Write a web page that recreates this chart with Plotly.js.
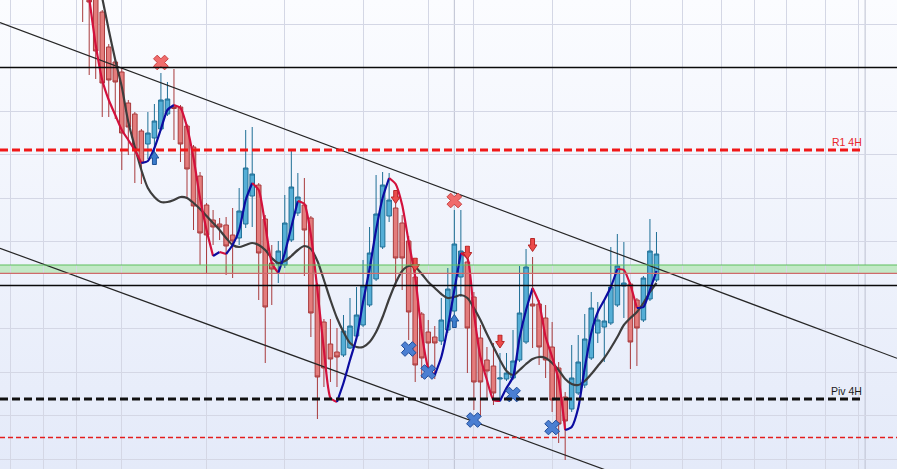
<!DOCTYPE html>
<html><head><meta charset="utf-8">
<script src="https://cdn.plot.ly/plotly-3.0.1.min.js"></script>
<style>
html,body{margin:0;padding:0;}
body{background:linear-gradient(#fbfcff,#e4eaf9);width:897px;height:469px;overflow:hidden;}
#chart{width:897px;height:469px;}
</style></head><body><div id="chart"></div>
<script>
// ---- candle data (price units) ----
const openP = [494,484,472,457,422,407,397,366,355,338,
 325,331,340,355,363,362,343,322,293,264,
 249,245,244,234,231,245,273,284,250,206,
 205,204,229,256,264,251,184,147,125,117,
 114,121,133,144,164,190,222,253,261,246,
 228,192,155,137,132,128,139,158,192,207,
 172,131,109,103,90,90,91,109,127,165,
 165,151,122,101,72,60,76,84,111,136,
 142,146,164,183,185,169,149,170,189];
const highP = [499,489,474,459,425,409,401,369,357,340,
 357,365,396,387,400,364,345,324,297,266,
 259,251,252,261,281,339,342,286,254,224,
 228,274,319,296,291,253,186,150,150,141,
 154,171,182,209,242,294,297,296,266,254,
 233,199,157,149,143,171,201,259,259,212,
 177,144,122,126,116,116,139,203,220,212,
 169,164,147,107,77,124,134,155,177,167,
 169,222,235,227,187,171,193,250,237];
const lowP = [447,394,390,352,352,350,299,314,286,285,
 310,316,338,353,329,307,270,239,204,196,
 224,229,194,191,224,241,242,169,106,164,
 186,201,227,253,193,132,50,82,87,82,
 112,120,131,142,162,188,220,247,182,179,
 129,87,91,94,90,124,136,154,172,96,
 59,52,69,64,67,88,89,107,125,121,
 104,91,57,26,9,57,74,81,109,126,
 107,144,162,151,100,103,147,168,187];
const closeP = [474,467,418,386,389,387,336,342,320,306,
 336,348,369,370,360.5,325,300,263,236,234,
 242,242,223,228,258,301,295,216,162,200,
 218,246,282,272,239,156,92,101,110,112,
 138,143,154,183,216,255,284,269,211,211,
 157,104,111,126,126,149,180,225,218,141,
 87,87,98,76,91,96,108,156,202,163,
 122,109,69,45,48,91,107,130,161,149,
 148,182,203,186,127,141,191,218,215];
// ---- moving averages ----
const fastMA = [null,471,424,389,369,354,339,329,319,306,
 308,321,340,359,364,361,342,311,271,239,
 213,217,215,224,239,269,286,279,244,206,
 196,216,242,268,265,234,179,119,71,67,
 86,109,131,167,200,239,271,291,285,264,
 227,192,136,101,94,112,142,179,216,211,
 156,112,89,69,68,81,92,131,159,181,
 166,132,112,89,39,42,61,101,136,157,
 169,182,200,199,184,161,162,179,198];
const slowMA = [null,null,null,471,439,409,382,347,322,299,
 281,272,267,267,269,272,271,266,260,253,
 246,239,231,224,222,224,226,224,219,211,
 206,208,213,219,223,220,208,189,169,151,
 137,126,122,122,127,137,152,170,186,198,
 203,202,195,187,181,175,171,172,174,171,
 161,149,135,122,109,98,94,99,105,110,
 112,111,106,99,90,85,84,88,95,103,
 111,121,132,144,151,157,166,177,186];
// ---- signals ----
const sellCrossX = [12, 57];
const sellCrossY = [406.5, 268.5];
const buyCrossX = [50, 53, 60, 66, 72];
const buyCrossY = [120, 97, 49, 74.5, 41.5];
const downArrowX = [48, 51, 59, 64, 69];
const downArrowY = [272, 204.5, 216.5, 127.5, 224];
const upArrowX = [11, 57];
const upArrowY = [311, 148];
// ---- levels & trend lines ----
const pivotNames = ['R1 4H', 'Piv 4H'];
const pivotLevels = [319, 70];
const solidLevels = [401.5, 183.5];
const zoneLevels = [195.7, 204];
const lowerDashLevel = [31.5];
const trendX = [-12.68, 124.89];
const upperTrendY = [446.5, 110.7];
const lowerTrendY = [220.7, -107.6];
const gridX = [-11,-6,-1,6,19,31,43,53,60,72,84,92,98,103,108,114,119];
const sessionX = [57, 120];

const idx = openP.map((_, i) => i);
const traces = [];
traces.push({type:'candlestick', x: idx, open: openP, high: highP, low: lowP, close: closeP,
  increasing:{line:{color:'#1f6f96', width:1}, fillcolor:'#55aed6'},
  decreasing:{line:{color:'#a83a3c', width:1}, fillcolor:'#e37c7c'},
  whiskerwidth:0, hoverinfo:'skip'});
[upperTrendY, lowerTrendY].forEach(ty => traces.push({type:'scatter', mode:'lines', x: trendX, y: ty,
  line:{color:'#262626', width:1.2}, hoverinfo:'skip'}));
traces.push({type:'scatter', mode:'lines', x: idx, y: slowMA, connectgaps:false,
  line:{color:'#3d3d3d', width:2.2, shape:'spline', smoothing:0.8}, hoverinfo:'skip'});
// fast MA coloured by direction
const runs = [];
let cur = null;
for (let i = 1; i < fastMA.length; i++) {
  const a = fastMA[i-1], b = fastMA[i];
  if (a == null || b == null) continue;
  const up = b > a;
  if (!cur || cur.up !== up) { cur = {up, x:[i-1], y:[a]}; runs.push(cur); }
  cur.x.push(i); cur.y.push(b);
}
runs.forEach(r => traces.push({type:'scatter', mode:'lines', x: r.x, y: r.y,
  line:{color: r.up ? '#0c0ca0' : '#d3113c', width:2.2, shape:'spline', smoothing:0.6}, hoverinfo:'skip'}));
traces.push({type:'scatter', mode:'markers', x: sellCrossX, y: sellCrossY,
  marker:{symbol:'x', size:13, color:'#f06c6c', line:{color:'#c94040', width:1}}, hoverinfo:'skip'});
traces.push({type:'scatter', mode:'markers', x: buyCrossX, y: buyCrossY,
  marker:{symbol:'x', size:13, color:'#4b7fd2', line:{color:'#1f4c9a', width:1}}, hoverinfo:'skip'});

const svgDown = "<svg xmlns='http://www.w3.org/2000/svg' width='10' height='14' viewBox='0 0 10 14'><path d='M3 0.5H7V7H9.5L5 13.5L0.5 7H3Z' fill='#ec4a4a' stroke='#b52525' stroke-width='1'/></svg>";
const svgUp = "<svg xmlns='http://www.w3.org/2000/svg' width='10' height='14' viewBox='0 0 10 14'><path d='M3 13.5H7V7H9.5L5 0.5L0.5 7H3Z' fill='#3b7ccc' stroke='#1b4f95' stroke-width='1'/></svg>";
const uri = s => 'data:image/svg+xml;charset=utf-8,' + encodeURIComponent(s);
const images = [];
downArrowX.forEach((x, k) => images.push({source: uri(svgDown), xref:'x', yref:'y', x: x, y: downArrowY[k],
  sizex:1.5, sizey:14, xanchor:'center', yanchor:'middle', sizing:'stretch', layer:'above'}));
upArrowX.forEach((x, k) => images.push({source: uri(svgUp), xref:'x', yref:'y', x: x, y: upArrowY[k],
  sizex:1.5, sizey:14, xanchor:'center', yanchor:'middle', sizing:'stretch', layer:'above'}));

const shapes = [];
sessionX.forEach(x => shapes.push({type:'line', xref:'x', yref:'paper', x0:x, x1:x, y0:0, y1:1,
  line:{color:'#bcc0d0', width:1}, layer:'below'}));
shapes.push({type:'rect', xref:'paper', yref:'y', x0:0, x1:1, y0:zoneLevels[0], y1:zoneLevels[1],
  fillcolor:'#c2e9c6', line:{width:0}, layer:'below'});
shapes.push({type:'line', xref:'paper', yref:'y', x0:0, x1:1, y0:zoneLevels[1], y1:zoneLevels[1],
  line:{color:'#5cbf5c', width:1.2}, layer:'above'});
shapes.push({type:'line', xref:'paper', yref:'y', x0:0, x1:1, y0:zoneLevels[0], y1:zoneLevels[0],
  line:{color:'#cf6b6b', width:1.2}, layer:'above'});
solidLevels.forEach(v => shapes.push({type:'line', xref:'paper', yref:'y', x0:0, x1:1, y0:v, y1:v,
  line:{color:'#0a0a0a', width:1.4}, layer:'above'}));
const pivColors = ['#f01818', '#111111'];
pivotLevels.forEach((v, k) => shapes.push({type:'line', xref:'paper', yref:'y', x0:0, x1:0.961, y0:v, y1:v,
  line:{color:pivColors[k], width:3, dash:'8px,4px'}, layer:'above'}));
lowerDashLevel.forEach(v => shapes.push({type:'line', xref:'paper', yref:'y', x0:0, x1:1, y0:v, y1:v,
  line:{color:'#e41e1e', width:1.3, dash:'5px,3px'}, layer:'above'}));

const annotations = pivotLevels.map((v, k) => ({xref:'paper', yref:'y', x:0.9632, y:v,
  xanchor:'right', yanchor:'bottom', showarrow:false, text:pivotNames[k],
  font:{family:'Liberation Sans, Arial, sans-serif', size:10.5, color: k === 0 ? '#e8262a' : '#1a1a1a'}}));

const layout = {width:897, height:469, margin:{l:0, r:0, t:0, b:0, pad:0},
  paper_bgcolor:'rgba(0,0,0,0)', plot_bgcolor:'rgba(0,0,0,0)', showlegend:false,
  boxmode:'overlay', boxgap:0.3, boxgroupgap:0,
  xaxis:{range:[trendX[0], trendX[1]], tickmode:'array', tickvals:gridX, showticklabels:false, ticks:'',
    showgrid:true, gridcolor:'#d4d7e5', gridwidth:1, zeroline:false, showline:false,
    rangeslider:{visible:false}, fixedrange:true},
  yaxis:{range:[0, 469], tick0:10, dtick:43.5, showticklabels:false, ticks:'', showgrid:true,
    gridcolor:'#d4d7e5', gridwidth:1, zeroline:false, showline:false, fixedrange:true},
  shapes, annotations, images};
Plotly.newPlot('chart', traces, layout, {displayModeBar:false, staticPlot:true});
</script></body></html>
